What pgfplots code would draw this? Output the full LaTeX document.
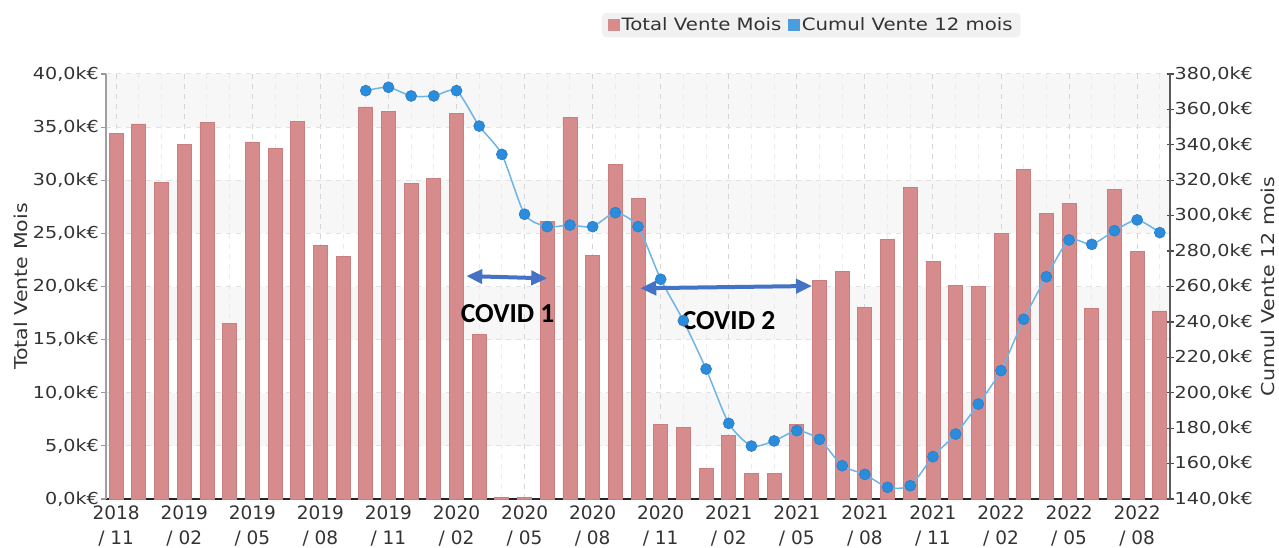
\documentclass[border=0pt]{standalone}
\usepackage{fontspec}
\setmainfont{DejaVu Sans}
\newfontfamily\wide{DejaVu Sans}[FakeStretch=1.16]
\newfontfamily\carlito{Carlito}
\usepackage{pgfplots}
\pgfplotsset{compat=1.18}
\usetikzlibrary{arrows.meta}
\definecolor{barfill}{HTML}{D68C8C}
\definecolor{baredge}{HTML}{C97F7F}
\definecolor{linec}{HTML}{6EB4E6}
\definecolor{markc}{HTML}{2B8CDB}
\definecolor{markedge}{HTML}{2A7CC6}
\definecolor{bandc}{HTML}{F7F7F7}
\definecolor{gridc}{HTML}{E2E2E2}
\definecolor{gridmaj}{HTML}{D5D5D5}
\definecolor{gridmin}{HTML}{EBEBEB}
\definecolor{legbg}{HTML}{F1F1F1}
\definecolor{covid}{HTML}{4472C4}
\definecolor{txt}{HTML}{333333}
\begin{document}
\begin{tikzpicture}
\begin{axis}[
  set layers,
  scale only axis, width=1064pt, height=425pt,
  at={(0pt,0pt)}, anchor=south west,
  xmin=-0.45, xmax=46.45, ymin=0, ymax=40,
  axis y line*=left, axis x line*=bottom,
  ybar, bar width=14pt,
  ytick={0,5,...,40},
  yticklabel={\pgfmathprintnumber[fixed,fixed zerofill,precision=1,use comma,assume math mode=true]{\tick}k€},
  xtick={0,3,...,45},
  xticklabels={{2018\\/ 11},{2019\\/ 02},{2019\\/ 05},{2019\\/ 08},{2019\\/ 11},{2020\\/ 02},{2020\\/ 05},{2020\\/ 08},{2020\\/ 11},{2021\\/ 02},{2021\\/ 05},{2021\\/ 08},{2021\\/ 11},{2022\\/ 02},{2022\\/ 05},{2022\\/ 08}},
  minor xtick={0,...,46},
  xmajorgrids, xminorgrids, ymajorgrids,
  major x grid style={dash pattern=on 5pt off 5pt, draw=gridmaj, line width=1pt},
  minor x grid style={dash pattern=on 5pt off 5pt, draw=gridmin, line width=1pt},
  major y grid style={dash pattern=on 5pt off 5pt, draw=gridc, line width=1pt},
  xtick style={draw=none},
  ytick style={draw=gray!80, line width=1.2pt},
  tick align=outside, major tick length=5pt, minor tick length=0pt,
  x axis line style={draw=black!85, line width=1.6pt},
  y axis line style={draw=gray!75, line width=2pt},
  yticklabel style={font=\wide\fontsize{16.5}{18}\selectfont, text=txt, inner xsep=2pt},
  xticklabel style={font=\fontsize{18.5}{25}\selectfont, text=txt, align=center, inner ysep=2pt},
  ylabel={Total Vente Mois},
  ylabel style={font=\wide\fontsize{17.7}{20}\selectfont, text=txt, yshift=0pt},
]
\begin{pgfonlayer}{axis background}
\fill[bandc] (axis cs:-0.45,35) rectangle (axis cs:46.45,40);
\fill[bandc] (axis cs:-0.45,25) rectangle (axis cs:46.45,30);
\fill[bandc] (axis cs:-0.45,15) rectangle (axis cs:46.45,20);
\fill[bandc] (axis cs:-0.45,5) rectangle (axis cs:46.45,10);
\end{pgfonlayer}
\addplot[fill=barfill, draw=baredge, line width=0.8pt] table {
x y
0 34.4
1 35.3
2 29.8
3 33.4
4 35.4
5 16.5
6 33.6
7 33.0
8 35.5
9 23.9
10 22.8
11 36.9
12 36.5
13 29.7
14 30.2
15 36.3
16 15.5
17 0.15
18 0.15
19 26.1
20 35.9
21 22.9
22 31.5
23 28.3
24 7.0
25 6.7
26 2.9
27 5.95
28 2.4
29 2.4
30 7.0
31 20.6
32 21.4
33 18.0
34 24.4
35 29.3
36 22.4
37 20.1
38 20.0
39 25.0
40 31.0
41 26.9
42 27.8
43 17.9
44 29.1
45 23.3
46 17.7
};
\end{axis}
\begin{axis}[
  scale only axis, width=1064pt, height=425pt,
  at={(0pt,0pt)}, anchor=south west,
  xmin=-0.45, xmax=46.45, ymin=140, ymax=380,
  axis y line*=right, axis x line=none,
  ytick={140,160,...,380},
  scaled y ticks=false,
  yticklabel={\pgfmathprintnumber[fixed,fixed zerofill,precision=1,use comma,assume math mode=true]{\tick}k€},
  tick align=center, major tick length=7pt,
  ytick style={draw=black!70, line width=1.2pt},
  y axis line style={draw=black!65, line width=1.6pt},
  yticklabel style={font=\wide\fontsize{16.5}{18}\selectfont, text=txt, inner xsep=1pt},
  ylabel={Cumul Vente 12 mois},
  ylabel style={font=\wide\fontsize{17.7}{20}\selectfont, text=txt, yshift=-4pt},
  legend style={at={(0.663,1.115)}, anchor=center, fill=legbg, draw=none, rounded corners=4pt,
    font=\wide\fontsize{17}{20}\selectfont, text=txt, inner xsep=6pt, inner ysep=3pt,
    /tikz/every even column/.style={column sep=5pt}},
  legend columns=2,
]
\addlegendimage{legend image code/.code={\fill[barfill, sharp corners] (0pt,-5.5pt) rectangle (11pt,5.5pt);}}
\addlegendentry{Total Vente Mois}
\addlegendimage{legend image code/.code={\fill[markc!85!white, sharp corners] (0pt,-5.5pt) rectangle (11pt,5.5pt);}}
\addlegendentry{Cumul Vente 12 mois}
\addplot[forget plot, smooth, tension=0.4, draw=linec, line width=1.5pt, mark=*, mark size=5.5pt,
  mark options={fill=markc, draw=markedge, line width=0.6pt}] table {
x y
11 370.6
12 372.5
13 367.6
14 367.6
15 370.6
16 350.6
17 334.6
18 300.8
19 293.8
20 294.7
21 293.8
22 301.7
23 293.8
24 264.1
25 240.7
26 213.4
27 182.7
28 169.9
29 172.8
30 178.6
31 173.7
32 158.8
33 153.9
34 146.6
35 147.5
36 163.9
37 176.7
38 193.6
39 212.5
40 241.5
41 265.5
42 286.3
43 283.8
44 291.5
45 297.6
46 290.4
};
\draw[covid, line width=4pt, {Triangle[length=16pt,width=14pt]}-{Triangle[length=16pt,width=14pt]}]
  (axis cs:15.43,265.9) -- (axis cs:19.0,264.6);
\draw[covid, line width=4pt, {Triangle[length=16pt,width=14pt]}-{Triangle[length=16pt,width=14pt]}]
  (axis cs:23.1,259.0) -- (axis cs:30.67,260.3);
\node[font=\carlito\bfseries\fontsize{27.5}{30}\selectfont, text=black, inner sep=0pt] at (axis cs:17.25,244.5) {COVID 1};
\node[font=\carlito\bfseries\fontsize{27.5}{30}\selectfont, text=black, inner sep=0pt] at (axis cs:26.99,240.8) {COVID 2};
\end{axis}
\pgfresetboundingbox
\path[use as bounding box] (-106pt,-48pt) rectangle (1173pt,499pt);
\end{tikzpicture}
\end{document}
